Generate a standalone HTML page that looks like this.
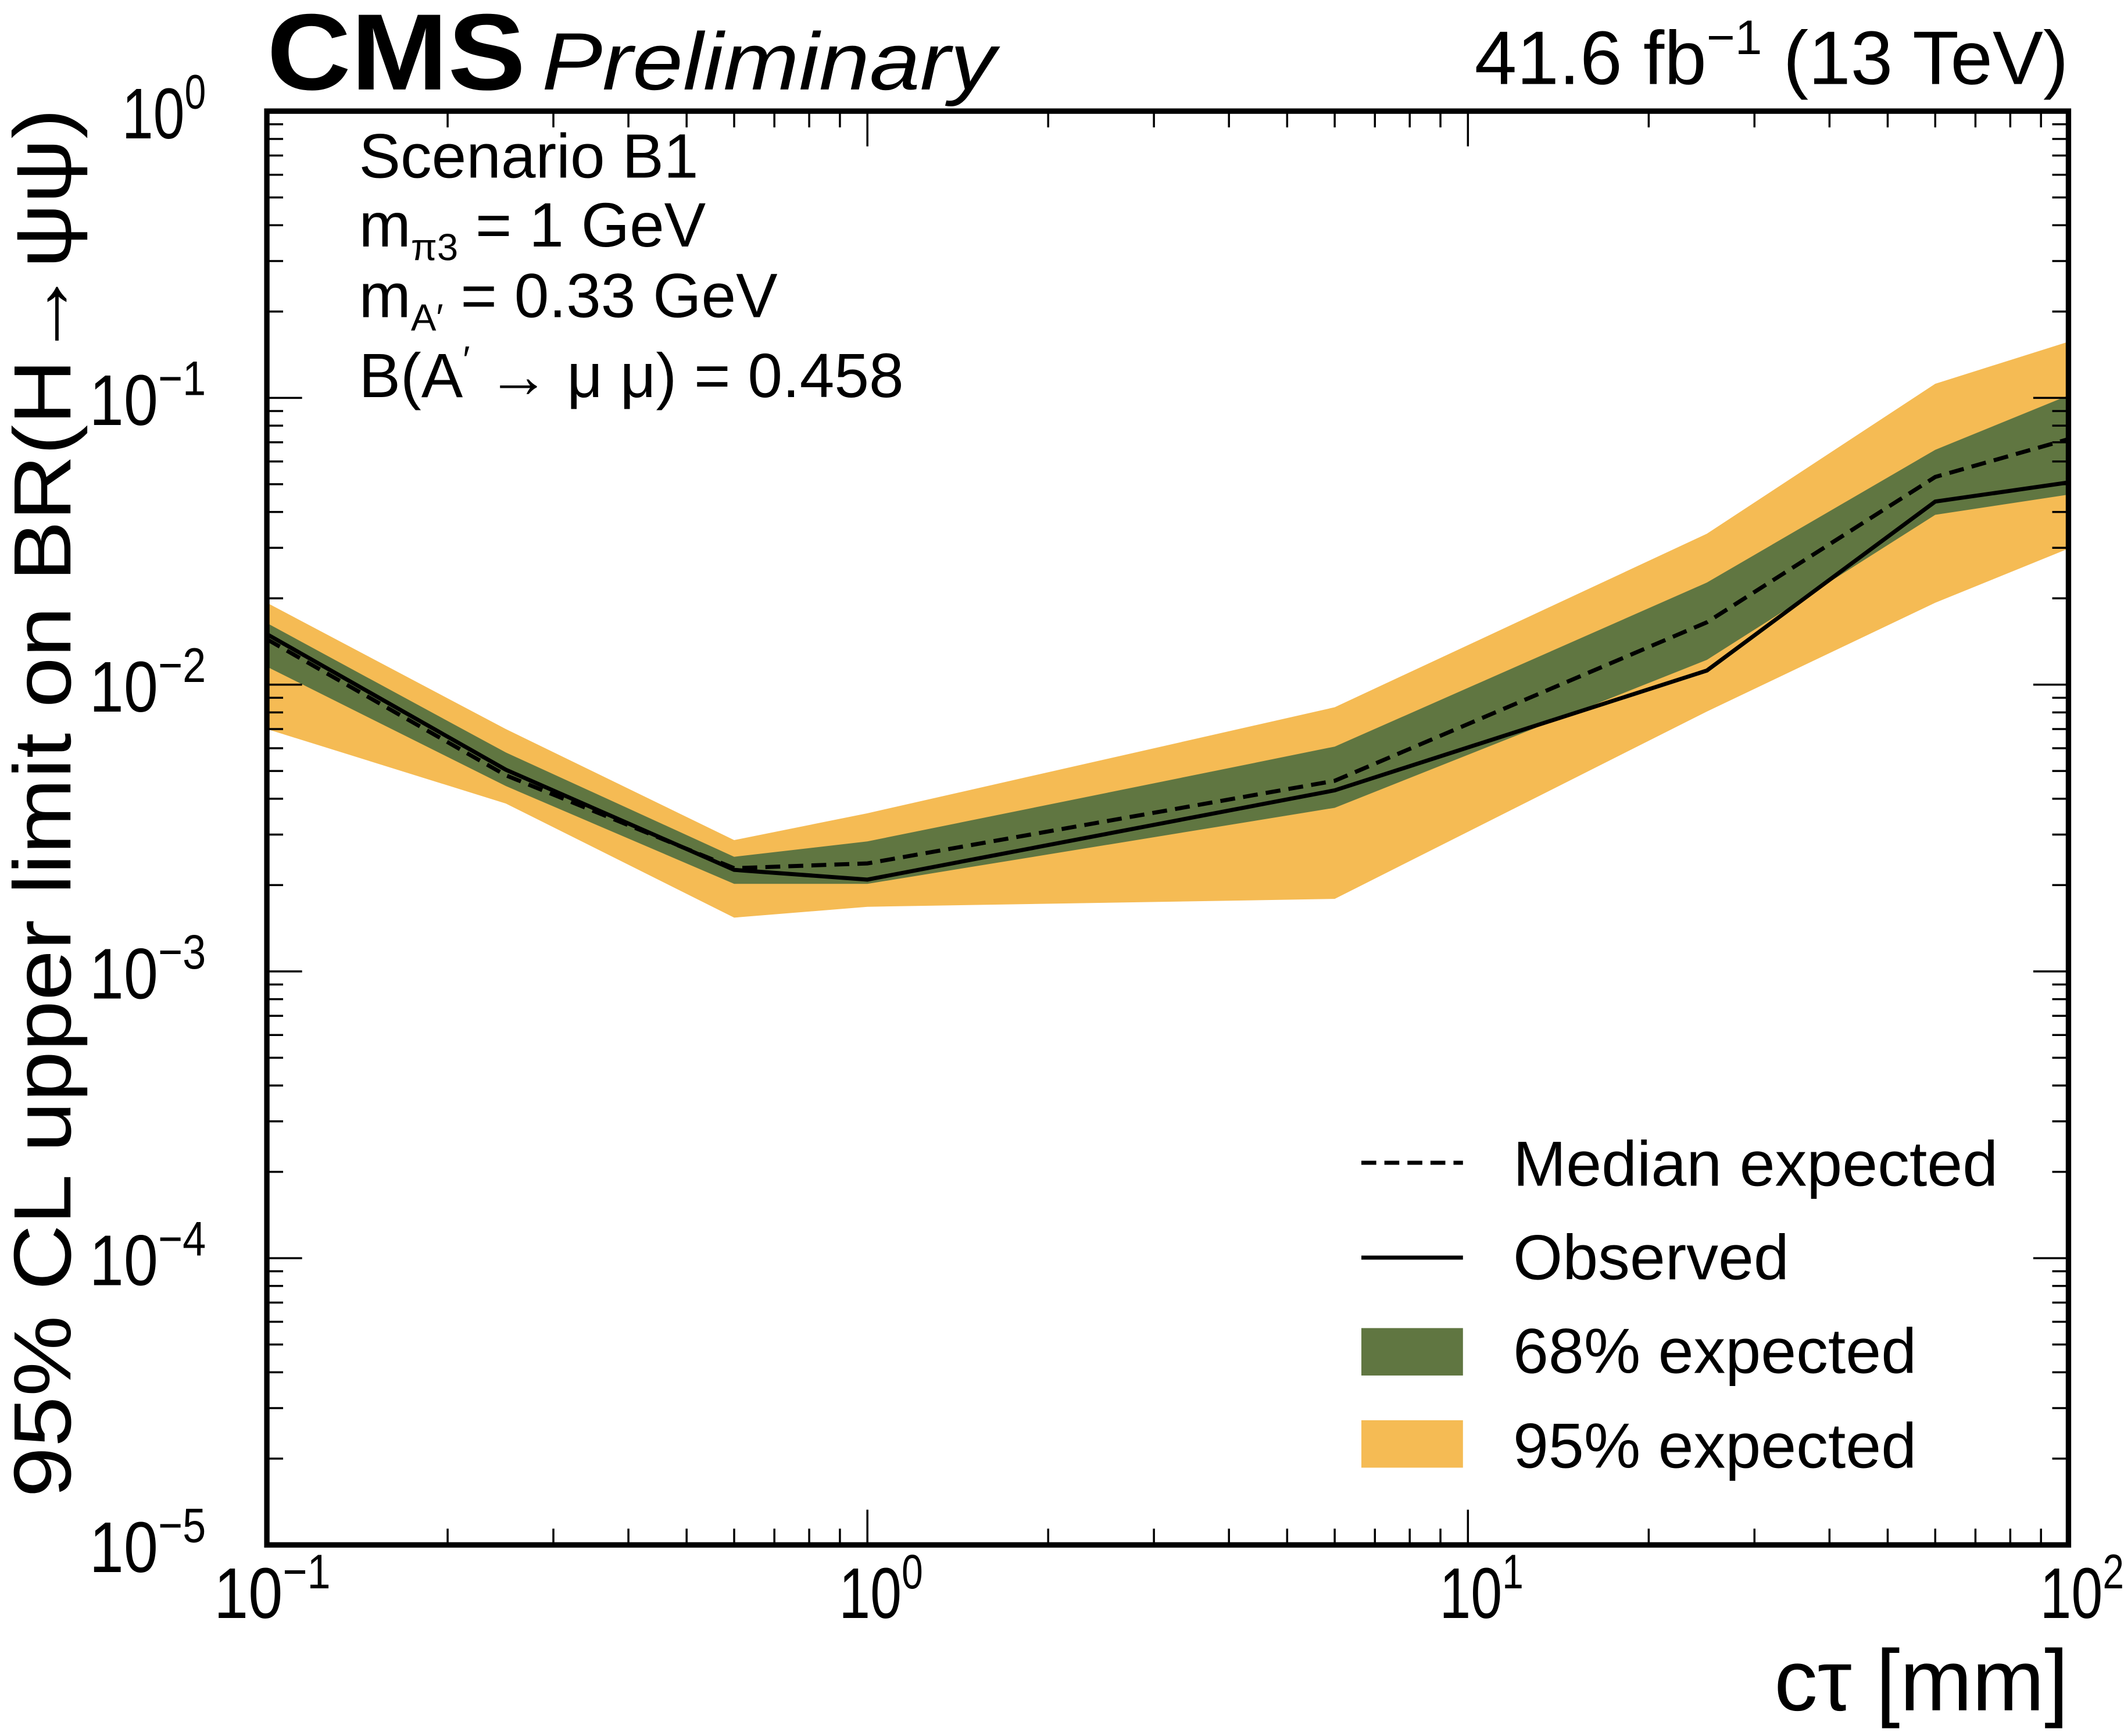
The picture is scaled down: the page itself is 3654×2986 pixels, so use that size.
<!DOCTYPE html>
<html><head><meta charset="utf-8"><style>
html,body{margin:0;padding:0;background:#fff;}
svg{display:block;font-family:"Liberation Sans",sans-serif;}
</style></head><body>
<svg id="chart" width="3654" height="2986" viewBox="0 0 1568 1281" preserveAspectRatio="none" xmlns="http://www.w3.org/2000/svg">
<g id="bands"></g><g id="lines"></g><g id="axes"></g>
<text x="197" y="66" font-size="80" font-weight="bold" textLength="191" lengthAdjust="spacingAndGlyphs">CMS</text>
<text x="400" y="66" font-size="60" font-style="italic" textLength="335" lengthAdjust="spacingAndGlyphs">Preliminary</text>
<text x="1527" y="62" font-size="56" text-anchor="end">41.6 fb<tspan dy="-22" font-size="36">−1</tspan><tspan dy="22"> (13 TeV)</tspan></text>
<g font-size="46">
<text x="265" y="131">Scenario B1</text>
<text x="265" y="182">m<tspan font-size="28" dy="10">π3</tspan><tspan dy="-10"> = 1 GeV</tspan></text>
<text x="265" y="234">m<tspan font-size="28" dy="10">A′</tspan><tspan dy="-10"> = 0.33 GeV</tspan></text>
<text x="265" y="293">B(A<tspan font-size="28" dy="-18">′</tspan><tspan dy="18"> → μ μ) = 0.458</tspan></text>
</g>
<text transform="translate(52,1105) rotate(-90)" font-size="60" textLength="1025" lengthAdjust="spacingAndGlyphs">95% CL upper limit on BR(H→ψψ)</text>
<text x="1527" y="1262" font-size="64" text-anchor="end">cτ [mm]</text>
<g font-size="47">
<line x1="1005" y1="858" x2="1080" y2="858" stroke="#000" stroke-width="3" stroke-dasharray="11,6"/>
<text x="1117" y="875">Median expected</text>
<line x1="1005" y1="928" x2="1080" y2="928" stroke="#000" stroke-width="3"/>
<text x="1117" y="944">Observed</text>
<rect x="1005" y="980" width="75" height="35" fill="#607641"/>
<text x="1117" y="1013">68% expected</text>
<rect x="1005" y="1048" width="75" height="35" fill="#f5bb54"/>
<text x="1117" y="1083">95% expected</text>
</g>
</svg>
<script>
const ctau=[0.1,0.25,0.6,1,6,25,60,100];
const observed=[0.015,0.00505,0.00226,0.00209,0.00428,0.0112,0.0435,0.0507];
const median=[0.0144,0.00483,0.00229,0.00238,0.00462,0.0165,0.053,0.0718];
const up68=[0.0164,0.0058,0.00251,0.00284,0.00608,0.0227,0.0659,0.102];
const lo68=[0.01155,0.00443,0.00202,0.00202,0.00372,0.0122,0.0391,0.046];
const up95=[0.0193,0.007,0.00287,0.00356,0.00834,0.0336,0.112,0.157];
const lo95=[0.007,0.00385,0.00154,0.00168,0.00179,0.00806,0.0193,0.0298];
const xExps=[-1,0,1,2];
const yExps=[0,-1,-2,-3,-4,-5];
const L=197,R=1527,T=82,B=1140;
const NS='http://www.w3.org/2000/svg';
function X(v){return L+(Math.log10(v)+1)/3*(R-L);}
function Y(v){return T+(0-Math.log10(v))/5*(B-T);}
function mk(tag,attrs,parent){const e=document.createElementNS(NS,tag);for(const k in attrs)e.setAttribute(k,attrs[k]);parent.appendChild(e);return e;}
const bands=document.getElementById('bands'),lines=document.getElementById('lines'),axes=document.getElementById('axes');
function band(up,lo,color,name){
  let pts=ctau.map((c,i)=>X(c)+','+Y(up[i]));
  for(let i=ctau.length-1;i>=0;i--)pts.push(X(ctau[i])+','+Y(lo[i]));
  const p=mk('polygon',{points:pts.join(' '),fill:color},bands);
  
  
}
band(up95,lo95,'#f5bb54','band-95');
band(up68,lo68,'#607641','band-68');
function line(vals,dash,name){
  const p=mk('polyline',{points:ctau.map((c,i)=>X(c)+','+Y(vals[i])).join(' '),fill:'none',stroke:'#000','stroke-width':3},lines);
  if(dash)p.setAttribute('stroke-dasharray','11,6');
  
  
}
line(median,true,'median-expected-line');
line(observed,false,'observed-line');
const f=mk('rect',{x:L,y:T,width:R-L,height:B-T,fill:'none',stroke:'#000','stroke-width':4},axes);


for(let e=-1;e<=2;e++){
  for(let m=1;m<=9;m++){
    const v=m*Math.pow(10,e); if(v>100.0001)break;
    const x=X(v),len=(m===1)?26:12;
    mk('line',{x1:x,y1:B,x2:x,y2:B-len,stroke:'#000','stroke-width':1.5},axes);
    mk('line',{x1:x,y1:T,x2:x,y2:T+len,stroke:'#000','stroke-width':1.5},axes);
  }
}
function expLabel(e,x,y,name){
  const w=e<0?86:62;
  const t=mk('text',{x:x,y:y,'font-size':53,textLength:w,lengthAdjust:'spacingAndGlyphs'},axes);
  
  
  t.innerHTML='10<tspan dy="-22" font-size="36">'+(e<0?'−'+(-e):e)+'</tspan>';
  return w;
}
xExps.forEach(e=>{
  const w=e<0?86:62;
  expLabel(e,X(Math.pow(10,e))-w/2+(e<0?4:10),1194,'x-tick-label');
});
for(let e=-5;e<=0;e++){
  for(let m=1;m<=9;m++){
    const v=m*Math.pow(10,e); if(v>1.0001)break;
    const y=Y(v),len=(m===1)?26:12;
    mk('line',{x1:L,y1:y,x2:L+len,y2:y,stroke:'#000','stroke-width':1.5},axes);
    mk('line',{x1:R,y1:y,x2:R-len,y2:y,stroke:'#000','stroke-width':1.5},axes);
  }
}
yExps.forEach(e=>{
  const w=e<0?86:62;
  expLabel(e,152-w,Y(Math.pow(10,e))+20,'y-tick-label');
});
</script>
</body></html>
